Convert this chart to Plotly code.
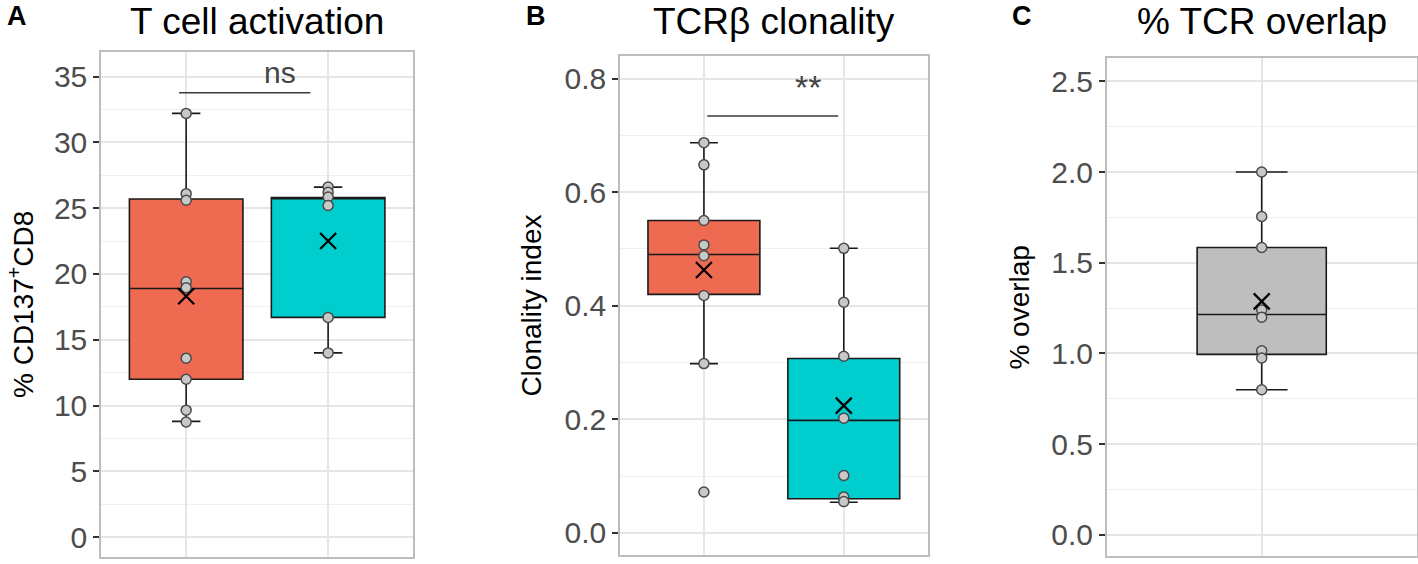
"""T cell activation / TCRβ clonality / % TCR overlap — three box panels (A, B, C)."""

import plotly.graph_objects as go

W, H = 1418, 564
FONT = "Arial, Liberation Sans, sans-serif"
C = dict(red="#EE6A50", cyan="#00CDCD", gray="#BEBEBE", pt="#C8C8C8", ptline="#4A4A4A",
         box="#1A1A1A", grid="#E6E6E6", minor="#EFEFEF", frame="#BDBDBD", tick="#4D4D4D")

# ---- panel A: T cell activation (% CD137+CD8) ----
a_groups = [0, 1]
a_q1 = [12.0, 16.7]
a_median = [18.9, 25.8]
a_q3 = [25.7, 25.8]
a_low = [8.8, 14.0]
a_high = [32.2, 26.6]
a_mean = [18.3, 22.5]
a_pts_red = [32.2, 26.1, 25.6, 19.4, 18.95, 13.6, 12.0, 9.65, 8.75]
a_pts_cyan = [26.6, 26.2, 25.85, 25.2, 16.7, 14.0]
a_sig_x = [-0.05, 0.875]
a_sig_y = 33.77
a_sig_label = "ns"

# ---- panel B: TCRβ clonality ----
b_groups = [0, 1]
b_q1 = [0.42, 0.06]
b_median = [0.49, 0.198]
b_q3 = [0.55, 0.307]
b_low = [0.298, 0.054]
b_high = [0.687, 0.501]
b_mean = [0.463, 0.224]
b_pts_red = [0.687, 0.648, 0.550, 0.507, 0.488, 0.418, 0.298, 0.072]
b_pts_cyan = [0.501, 0.406, 0.311, 0.202, 0.101, 0.063, 0.055]
b_sig_x = [0.024, 0.96]
b_sig_y = 0.734
b_sig_label = "**"

# ---- panel C: % TCR overlap ----
c_groups = [0]
c_q1 = [0.995]
c_median = [1.215]
c_q3 = [1.584]
c_low = [0.80]
c_high = [2.0]
c_mean = [1.287]
c_pts = [2.0, 1.755, 1.584, 1.24, 1.20, 1.015, 0.975, 0.80]


def px_x(x):
    return x / W


def px_y(y):
    return 1 - y / H


fig = go.Figure()


def add_box(ax, x, q1, med, q3, lo, hi, color, width, ww):
    fig.add_trace(go.Box(
        x=[x], q1=[q1], median=[med], q3=[q3], lowerfence=[lo], upperfence=[hi],
        width=width, whiskerwidth=ww, fillcolor=color, boxpoints=False,
        line=dict(color=C["box"], width=1.6), xaxis="x" + ax, yaxis="y" + ax,
        showlegend=False, hoverinfo="skip"))


def add_points(ax, x, ys):
    fig.add_trace(go.Scatter(
        x=[x] * len(ys), y=ys, mode="markers", xaxis="x" + ax, yaxis="y" + ax,
        marker=dict(size=10, color=C["pt"], line=dict(color=C["ptline"], width=1.5)),
        showlegend=False, hoverinfo="skip"))


def add_means(ax, xs, ys):
    fig.add_trace(go.Scatter(
        x=xs, y=ys, mode="markers", xaxis="x" + ax, yaxis="y" + ax,
        marker=dict(symbol="x-thin-open", size=16, color="black",
                    line=dict(color="black", width=2.2)),
        showlegend=False, hoverinfo="skip"))


def add_sig(ax, xs, y, label, ylabel, size):
    fig.add_trace(go.Scatter(
        x=xs, y=[y, y], mode="lines", xaxis="x" + ax, yaxis="y" + ax,
        line=dict(color="#3A3A3A", width=1.4), showlegend=False, hoverinfo="skip"))
    fig.add_annotation(x=xs[0] + 0.77 * (xs[1] - xs[0]), y=ylabel, xref="x" + ax, yref="y" + ax,
                       text=label, showarrow=False, font=dict(size=size, color="#444444"))


# panel A
add_box("", a_groups[0], a_q1[0], a_median[0], a_q3[0], a_low[0], a_high[0], C["red"], 0.8, 0.25)
add_box("", a_groups[1], a_q1[1], a_median[1], a_q3[1], a_low[1], a_high[1], C["cyan"], 0.8, 0.25)
add_points("", a_groups[0], a_pts_red)
add_points("", a_groups[1], a_pts_cyan)
add_means("", a_groups, a_mean)
add_sig("", a_sig_x, a_sig_y, a_sig_label, 35.3, 30)

# panel B
add_box("2", b_groups[0], b_q1[0], b_median[0], b_q3[0], b_low[0], b_high[0], C["red"], 0.8, 0.25)
add_box("2", b_groups[1], b_q1[1], b_median[1], b_q3[1], b_low[1], b_high[1], C["cyan"], 0.8, 0.25)
add_points("2", b_groups[0], b_pts_red)
add_points("2", b_groups[1], b_pts_cyan)
add_means("2", b_groups, b_mean)
add_sig("2", b_sig_x, b_sig_y, b_sig_label, 0.785, 34)

# panel C
add_box("3", c_groups[0], c_q1[0], c_median[0], c_q3[0], c_low[0], c_high[0], C["gray"], 0.5, 0.4)
add_points("3", c_groups[0], c_pts)
add_means("3", c_groups, c_mean)


def xax(x0, x1, rng, cats):
    return dict(domain=[px_x(x0), px_x(x1)], range=rng, tickvals=cats, showticklabels=False,
                ticks="", showgrid=True, gridcolor=C["grid"], gridwidth=1.5, zeroline=False,
                showline=True, mirror=True, linecolor=C["frame"], linewidth=1.5, fixedrange=True)


def yax(anchor, y0, y1, rng, dtick, minor):
    return dict(anchor=anchor, domain=[px_y(y1), px_y(y0)], range=rng, dtick=dtick,
                ticks="outside", ticklen=6, tickwidth=1.5, tickcolor="#333333",
                tickfont=dict(size=30, color=C["tick"], family=FONT),
                showgrid=True, gridcolor=C["grid"], gridwidth=1.5, zeroline=False,
                minor=dict(dtick=minor, showgrid=True, gridcolor=C["minor"], gridwidth=1.3, ticks=""),
                showline=True, mirror=True, linecolor=C["frame"], linewidth=1.5, fixedrange=True)


fig.update_layout(
    width=W, height=H, margin=dict(l=0, r=0, t=0, b=0),
    paper_bgcolor="white", plot_bgcolor="white", font=dict(family=FONT, color="black"),
    xaxis=dict(anchor="y", **xax(101, 413.3, [-0.6, 1.6], a_groups)),
    yaxis=yax("x", 52.2, 557.3, [-1.53, 36.85], 5, 2.5),
    xaxis2=dict(anchor="y2", **xax(620, 927.7, [-0.6, 1.6], b_groups)),
    yaxis2=yax("x2", 55.8, 555, [-0.039, 0.84], 0.2, 0.1),
    xaxis3=dict(anchor="y3", **xax(1106.7, 1416.7, [-0.6, 0.6], c_groups)),
    yaxis3=yax("x3", 57.5, 556, [-0.116, 2.631], 0.5, 0.25),
)
fig.update_yaxes(tickformat=".1f", selector=dict(anchor="x2"))
fig.update_yaxes(tickformat=".1f", selector=dict(anchor="x3"))

# titles, panel letters, y-axis titles (pixel positions)
titles = [("T cell activation", 257), ("TCRβ clonality", 774), ("% TCR overlap", 1261.7)]
for text, cx in titles:
    fig.add_annotation(x=px_x(cx), y=px_y(21), xref="paper", yref="paper", text=text,
                       showarrow=False, xanchor="center", yanchor="middle",
                       font=dict(size=37, color="black", family=FONT))
for text, lx in [("A", 5), ("B", 524), ("C", 1010)]:
    fig.add_annotation(x=px_x(lx), y=px_y(16), xref="paper", yref="paper", text=f"<b>{text}</b>",
                       showarrow=False, xanchor="left", yanchor="middle",
                       font=dict(size=27, color="black", family=FONT))
ytitles = [("% CD137<sup>+</sup>CD8", 21, 305), ("Clonality index", 532, 305.6), ("% overlap", 1020, 307.6)]
for text, cx, cy in ytitles:
    fig.add_annotation(x=px_x(cx), y=px_y(cy), xref="paper", yref="paper", text=text,
                       showarrow=False, textangle=-90, xanchor="center", yanchor="middle",
                       font=dict(size=28, color="black", family=FONT))

# the page body has a default 8px margin; drop it so the figure sits at the window origin
fig.write_html("out.html", config=dict(displayModeBar=False),
               post_script="document.body.style.margin='0';")
